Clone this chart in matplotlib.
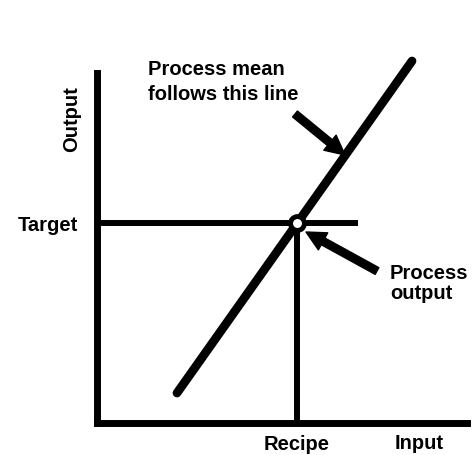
import matplotlib
matplotlib.use('Agg')
import matplotlib.pyplot as plt

plt.rcParams['font.family'] = ['Liberation Sans', 'DejaVu Sans']
plt.rcParams['font.weight'] = 'bold'

# 数据：过程均值沿直线变化，目标值与配方
mean_line_input = [8.0, 31.5]
mean_line_output = [3.0, 36.2]
recipe = 20.0
target = 20.0
target_line_end = 26.1

x_label = 'Input'
y_label = 'Output'
recipe_label = 'Recipe'
target_label = 'Target'

fig = plt.figure(figsize=(4.74, 4.56), dpi=100)
ax = fig.add_axes([97 / 474, 32 / 456, 370 / 474, 350 / 456])
ax.set_xlim(0, 37)
ax.set_ylim(0, 35)

for side in ['top', 'right']:
    ax.spines[side].set_visible(False)
for side in ['left', 'bottom']:
    ax.spines[side].set_linewidth(5)
    ax.spines[side].set_capstyle('projecting')

# 过程均值线
ax.plot(mean_line_input, mean_line_output, color='black', lw=6.3,
        solid_capstyle='round', clip_on=False)
# 目标线和配方线
ax.plot([0, target_line_end], [target, target], color='black', lw=4.3,
        solid_capstyle='butt', clip_on=False)
ax.plot([recipe, recipe], [0, target], color='black', lw=4.3,
        solid_capstyle='butt', clip_on=False)
# 过程输出点
ax.plot([recipe], [target], marker='o', ms=10, mfc='white', mec='black',
        mew=3.5, clip_on=False, zorder=5)

ax.set_xticks([recipe])
ax.set_xticklabels([recipe_label])
ax.set_yticks([target])
ax.set_yticklabels([target_label])
ax.tick_params(length=0, labelsize=14.5)
ax.tick_params(axis='x', pad=8)
ax.tick_params(axis='y', pad=14)

ax.set_xlabel(x_label, fontsize=14.5, fontweight='bold')
ax.xaxis.set_label_coords(0.870, -0.056)
ax.xaxis.label.set_va('center')
ax.set_ylabel(y_label, fontsize=14.5, fontweight='bold')
ax.yaxis.set_label_coords(-0.068, 0.871)
ax.yaxis.label.set_va('center')

ax.text(5.1, 34.2, 'Process mean\nfollows this line', fontsize=14.5,
        fontweight='bold', ha='left', va='center', linespacing=1.45)
ax.annotate('', xy=(24.8, 26.8), xytext=(19.8, 30.9),
            arrowprops=dict(width=5.5, headwidth=14, headlength=14,
                            shrink=0, color='black'))

ax.text(29.3, 14.05, 'Process\noutput', fontsize=14.5, fontweight='bold',
        ha='left', va='center', linespacing=1.05)
ax.annotate('', xy=(20.9, 19.1), xytext=(28.0, 15.2),
            arrowprops=dict(width=5.5, headwidth=14, headlength=14,
                            shrink=0, color='black'))

fig.savefig('out.png', dpi=100)
